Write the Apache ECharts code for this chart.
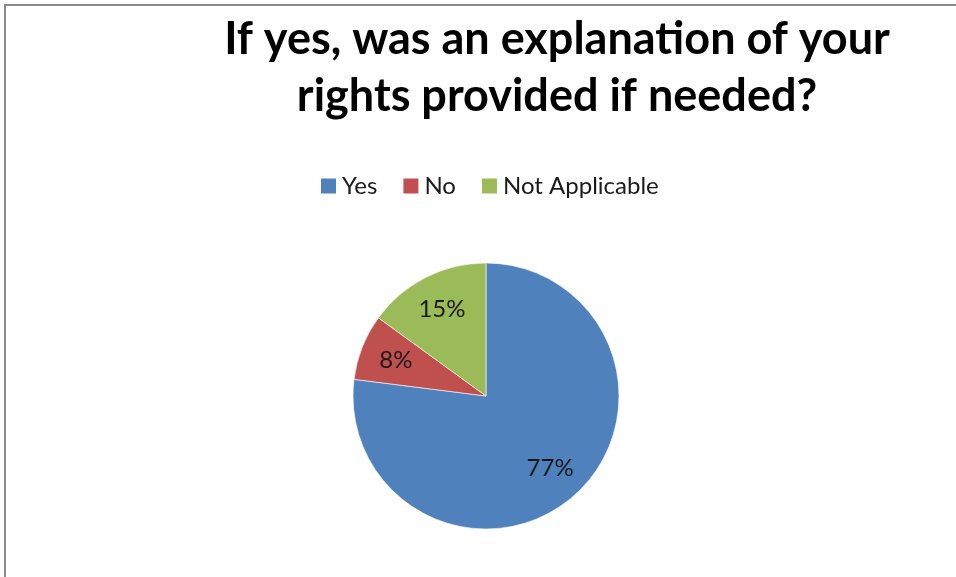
<!DOCTYPE html>
<html>
<head>
<meta charset="utf-8">
<script src="https://cdn.jsdelivr.net/npm/echarts@6/dist/echarts.min.js"></script>
<style>
html,body{margin:0;padding:0;background:#fff;}
#chart{width:956px;height:577px;}
</style>
</head>
<body>
<div id="chart"></div>
<script>
const titleText = 'If yes, was an explanation of your\nrights provided if needed?';
const categories = ['Yes', 'No', 'Not Applicable'];
const values = [77, 8, 15];
const colors = ['#4F81BD', '#C0504D', '#9BBB59'];

const font = 'Lato, "Open Sans", sans-serif';
const pieData = categories.map((c, i) => ({ name: c, value: values[i], itemStyle: { color: colors[i] } }));
const labelData = categories.map((c, i) => ({ name: c, value: values[i] }));

const chart = echarts.init(document.getElementById('chart'), null, { renderer: 'canvas' });
chart.setOption({
  animation: false,
  backgroundColor: '#fff',
  title: {
    text: titleText,
    left: 552,
    top: 6,
    textAlign: 'center',
    textStyle: { fontFamily: font, fontWeight: 'bold', fontSize: 45, lineHeight: 57, color: '#000' }
  },
  legend: {
    data: categories,
    left: 314,
    top: 169,
    icon: 'rect',
    itemWidth: 17,
    itemHeight: 17,
    itemGap: 24,
    textStyle: { fontFamily: font, fontSize: 24, color: '#1a1a1a', padding: [0, 0, 0, 0] }
  },
  graphic: [{
    type: 'rect',
    silent: true,
    shape: { x: 5, y: 5, width: 1200, height: 1200 },
    style: { fill: 'none', stroke: '#898989', lineWidth: 2 }
  }],
  series: [{
    type: 'pie',
    center: [486, 396],
    radius: [0, 133],
    startAngle: 90,
    clockwise: true,
    silent: true,
    label: { show: false },
    labelLine: { show: false },
    itemStyle: { borderColor: '#ffffff', borderWidth: 0.6 },
    data: pieData
  }, {
    type: 'pie',
    center: [486, 396],
    radius: [55, 133],
    startAngle: 90,
    clockwise: true,
    silent: true,
    itemStyle: { color: 'rgba(0,0,0,0)' },
    label: {
      show: true,
      position: 'inside',
      formatter: '{c}%',
      fontFamily: font,
      fontSize: 24,
      color: '#1a1a1a'
    },
    labelLine: { show: false },
    data: labelData
  }]
});
</script>
</body>
</html>
